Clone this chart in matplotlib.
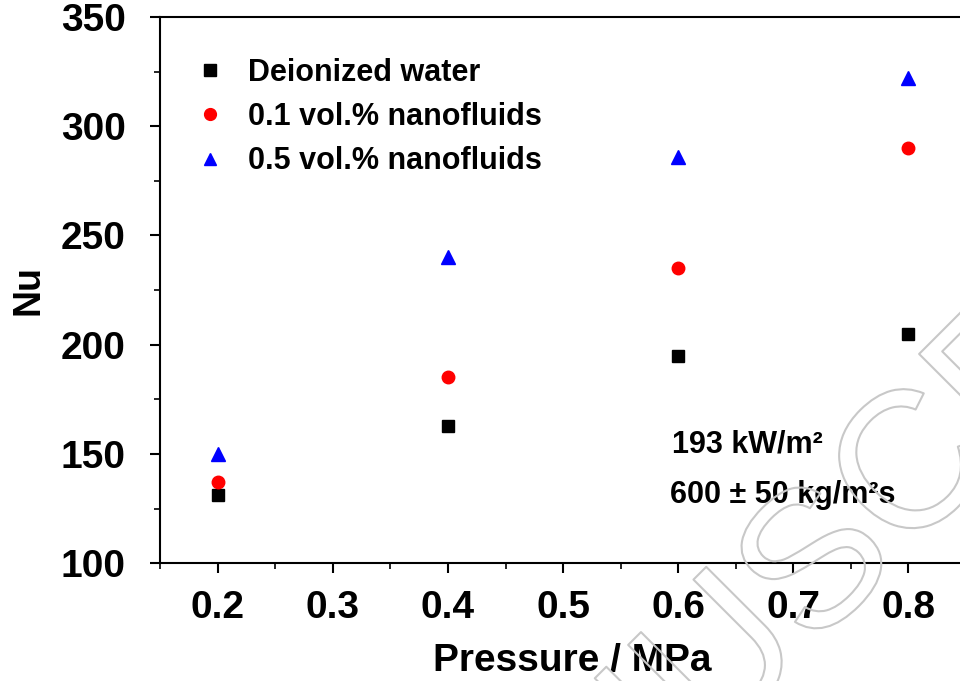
import matplotlib.pyplot as plt
from matplotlib.lines import Line2D
import matplotlib.patheffects as pe
from matplotlib.ticker import MultipleLocator

pressure = [0.2, 0.4, 0.6, 0.8]
nu_water = [131, 163, 195, 205]
nu_01 = [137, 185, 235, 290]
nu_05 = [150, 240, 286, 322]

labels = ["Deionized water", "0.1 vol.% nanofluids", "0.5 vol.% nanofluids"]

plt.rcParams["font.family"] = ["Liberation Sans", "DejaVu Sans"]
plt.rcParams["font.weight"] = "bold"

fig = plt.figure(figsize=(9.6, 6.81), dpi=100)
ax = fig.add_axes([0.167, 0.173, 0.833, 0.802])

ax.plot(pressure, nu_water, "s", color="black", markersize=8, linestyle="none")
ax.plot(pressure, nu_01, "o", color="red", markersize=9, linestyle="none")
ax.plot(pressure, nu_05, "^", color="blue", markersize=9.5, linestyle="none")

ax.set_xlim(0.15, 0.845)
ax.set_ylim(100, 350)
ax.xaxis.set_major_locator(MultipleLocator(0.1))
ax.xaxis.set_minor_locator(MultipleLocator(0.05))
ax.yaxis.set_major_locator(MultipleLocator(50))
ax.yaxis.set_minor_locator(MultipleLocator(25))
ax.set_xticks([0.2, 0.3, 0.4, 0.5, 0.6, 0.7, 0.8])
ax.set_xticklabels(["0.2", "0.3", "0.4", "0.5", "0.6", "0.7", "0.8"])

ax.spines["right"].set_visible(False)
for s in ["left", "bottom", "top"]:
    ax.spines[s].set_linewidth(1.5)

ax.tick_params(axis="both", which="major", direction="out", length=7, width=1.5,
               labelsize=28)
ax.tick_params(axis="both", which="minor", direction="out", length=4, width=1.2)
ax.tick_params(axis="x", which="major", pad=12)
ax.tick_params(axis="y", which="major", pad=18)
for t in ax.get_xticklabels() + ax.get_yticklabels():
    t.set_fontweight("bold")

ax.set_xlabel("Pressure / MPa", fontsize=28, fontweight="bold")
ax.xaxis.set_label_coords(0.515, -0.198, transform=ax.transAxes)
ax.xaxis.label.set_va("baseline")
ax.set_ylabel("Nu", fontsize=27, fontweight="bold", labelpad=10)

handles = [
    Line2D([], [], marker="s", color="black", linestyle="none", markersize=8),
    Line2D([], [], marker="o", color="red", linestyle="none", markersize=8.5),
    Line2D([], [], marker="^", color="blue", linestyle="none", markersize=9),
]
ax.legend(handles, labels, loc="upper left", bbox_to_anchor=(0.009, 0.976),
          frameon=False, prop={"size": 22, "weight": "bold"},
          handletextpad=0.75, labelspacing=0.47, handlelength=1.0)

ax.text(0.64, 0.203, "193 kW/m²", transform=ax.transAxes, va="baseline",
        fontsize=22, fontweight="bold")
ax.text(0.6375, 0.11, "600 ± 50 kg/m²s", transform=ax.transAxes, va="baseline",
        fontsize=22, fontweight="bold")

# faint outlined watermark
fig.text(0.86, 0.17, "MANUSCRIPT", fontsize=140, rotation=45, color="none",
         fontweight="normal", ha="center", va="center",
         path_effects=[pe.Stroke(linewidth=1.5, foreground="#c8c8c8")])

fig.savefig("out.png", dpi=100)
